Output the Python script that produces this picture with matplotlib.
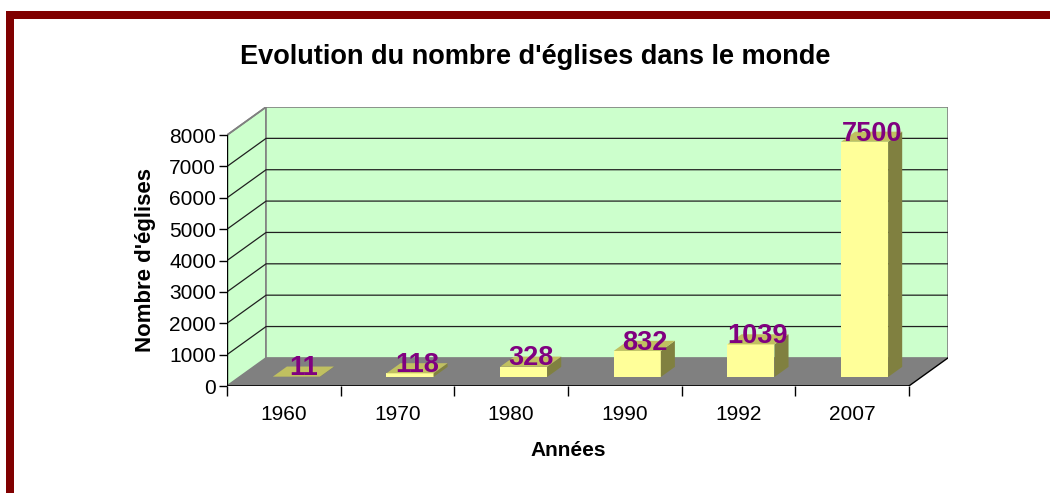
import matplotlib.pyplot as plt
from matplotlib.patches import Polygon, Rectangle

annees = ['1960', '1970', '1980', '1990', '1992', '2007']
eglises = [11, 118, 328, 832, 1039, 7500]
yticks = [0, 1000, 2000, 3000, 4000, 5000, 6000, 7000, 8000]

plt.rcParams['font.family'] = ['Liberation Sans', 'DejaVu Sans']

fig = plt.figure(figsize=(10.5, 4.93), dpi=100)
ax = fig.add_axes([227/1050, 107/493, 721/1050, 279/493])

# profondeur du graphique 3D (en unites des axes)
dx = 0.344
dy = 896
ymax = yticks[-1]
n = len(annees)

# murs et sol
ax.add_patch(Polygon([(0, 0), (dx, dy), (dx, ymax+dy), (0, ymax)], closed=True,
                     facecolor='#ccffcc', edgecolor='#808080', lw=1.2, zorder=1))
ax.add_patch(Polygon([(dx, dy), (n+dx, dy), (n+dx, ymax+dy), (dx, ymax+dy)], closed=True,
                     facecolor='#ccffcc', edgecolor='#808080', lw=1.2, zorder=1))
for v in yticks[1:-1]:
    ax.plot([0, dx, n+dx], [v, v+dy, v+dy], color='#202020', lw=0.9, zorder=2)
ax.plot([0, dx], [ymax, ymax+dy], color='#808080', lw=1.2, zorder=2)
ax.add_patch(Polygon([(0, 0), (n, 0), (n+dx, dy), (dx, dy)], closed=True,
                     facecolor='#808080', edgecolor='none', zorder=3))
ax.plot([n, n+dx], [0, dy], color='black', lw=1, zorder=4)
ax.plot([0, 0], [0, ymax], color='black', lw=1, zorder=4)
ax.plot([0, n], [0, 0], color='black', lw=1.2, zorder=4)

# barres
z0, z1 = 0.32, 0.68
w = 0.207
for i, v in enumerate(eglises):
    c = i + 0.5
    x0 = c - w + z0*dx
    x1 = c + w + z0*dx
    b0 = z0*dy
    ddx = (z1-z0)*dx
    ddy = (z1-z0)*dy
    ax.add_patch(Polygon([(x0, b0), (x1, b0), (x1, b0+v), (x0, b0+v)], closed=True,
                         facecolor='#ffff99', edgecolor='none', zorder=5))
    ax.add_patch(Polygon([(x1, b0), (x1+ddx, b0+ddy), (x1+ddx, b0+ddy+v), (x1, b0+v)], closed=True,
                         facecolor='#808040', edgecolor='none', zorder=5))
    ax.add_patch(Polygon([(x0, b0+v), (x1, b0+v), (x1+ddx, b0+ddy+v), (x0+ddx, b0+ddy+v)], closed=True,
                         facecolor='#c0c060', edgecolor='none', zorder=5))
    ax.text(c + 0.5*dx, b0 + v + 40, str(v), ha='center', va='baseline',
            fontsize=19.5, fontweight='bold', color='#800080', zorder=10)

ax.set_xlim(0, n+dx)
ax.set_ylim(0, ymax+dy)
for s in ax.spines.values():
    s.set_visible(False)
ax.patch.set_visible(False)

ax.set_yticks(yticks)
ax.set_yticklabels([str(t) for t in yticks], fontsize=15)
ax.tick_params(axis='y', length=6, width=1, pad=2)
ax.set_xticks(range(n+1))
ax.set_xticklabels([])
ax.set_xticks([i + 0.5 for i in range(n)], minor=True)
ax.set_xticklabels(annees, minor=True, fontsize=15)
ax.tick_params(axis='x', which='major', length=7, width=1)
ax.tick_params(axis='x', which='minor', length=0, pad=14)

fig.text(535/1050, 1-57/493, "Evolution du nombre d'églises dans le monde",
         ha='center', va='center', fontsize=19.5, fontweight='bold')
fig.text(568/1050, 1-450/493, 'Années', ha='center', va='center', fontsize=15, fontweight='bold')
fig.text(145/1050, 1-260/493, "Nombre d'églises", ha='center', va='center',
         rotation=90, fontsize=16, fontweight='bold')

# cadre rouge fonce
fig.patches.append(Rectangle((6/1050, 0), 8/1050, 1-11/493, transform=fig.transFigure,
                             facecolor='#800000', edgecolor='none'))
fig.patches.append(Rectangle((6/1050, 1-19/493), 1, 8/493, transform=fig.transFigure,
                             facecolor='#800000', edgecolor='none'))

fig.savefig('out.png', dpi=100)
